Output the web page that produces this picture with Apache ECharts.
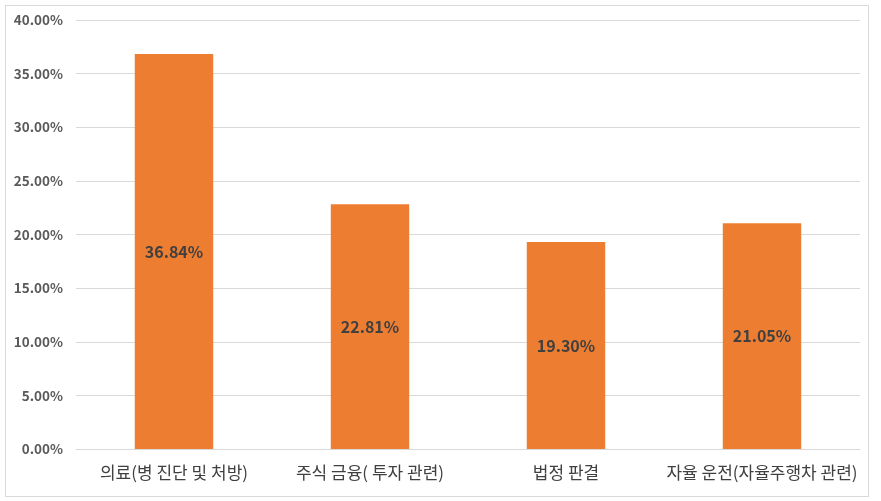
<!DOCTYPE html>
<html>
<head>
<meta charset="utf-8">
<script src="https://cdn.jsdelivr.net/npm/echarts@6/dist/echarts.min.js"></script>
<style>
  html, body { margin: 0; padding: 0; background: #fff; }
  #frame { position: absolute; left: 5px; top: 5px; width: 862px; height: 490px; border: 1px solid #d9d9d9; }
  #chart { position: absolute; left: 0; top: 0; width: 881px; height: 501px; }
</style>
</head>
<body>
<div id="frame"></div>
<div id="chart"></div>
<script>
// categories and values (percent)
var categories = ['의료(병 진단 및 처방)', '주식 금융( 투자 관련)', '법정 판결', '자율 운전(자율주행차 관련)'];
var shares = [36.84, 22.81, 19.30, 21.05];

var chart = echarts.init(document.getElementById('chart'));

var option = {
    animation: false,
    grid: { left: 76, right: 21, top: 20, bottom: 52 },
    xAxis: {
        type: 'category',
        data: categories,
        axisLine: { lineStyle: { color: '#d9d9d9' } },
        axisTick: { show: false },
        axisLabel: {
            interval: 0,
            color: '#404040',
            fontSize: 17,
            fontFamily: 'Noto Sans CJK KR',
            margin: 15
        }
    },
    yAxis: {
        type: 'value',
        min: 0,
        max: 40,
        interval: 5,
        axisLine: { show: false },
        axisTick: { show: false },
        splitLine: { lineStyle: { color: '#d9d9d9' } },
        axisLabel: {
            color: '#595959',
            fontSize: 13.5,
            fontWeight: 'bold',
            fontFamily: 'Noto Sans CJK KR',
            margin: 13,
            formatter: function (v) { return v.toFixed(2) + '%'; }
        }
    },
    series: [{
        type: 'bar',
        data: shares,
        barWidth: '40%',
        itemStyle: { color: '#ed7d31' },
        label: {
            show: true,
            position: 'inside',
            color: '#404040',
            fontSize: 16,
            fontWeight: 'bold',
            fontFamily: 'Noto Sans CJK KR',
            formatter: function (p) { return p.value.toFixed(2) + '%'; }
        }
    }]
};

chart.setOption(option);
</script>
</body>
</html>
